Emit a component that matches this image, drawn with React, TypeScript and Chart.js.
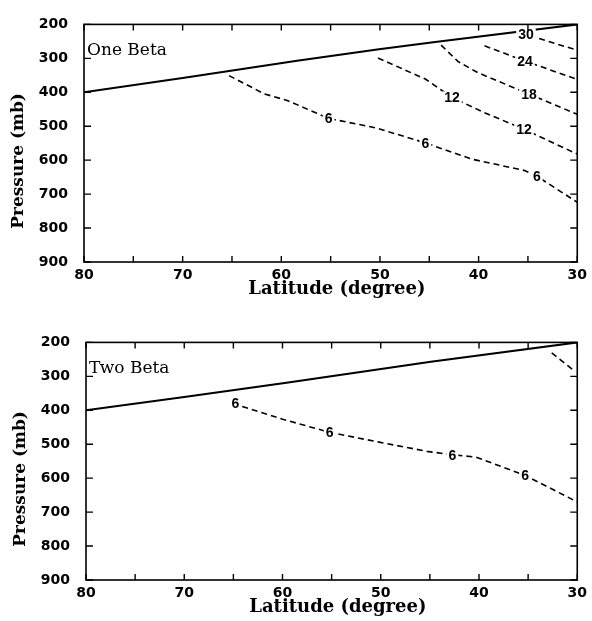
import React, { useEffect, useRef } from "react";
import { Chart, registerables } from "chart.js";

Chart.register(...registerables);

// ---------- axes ----------
const latMin = 30;
const latMax = 80;
const latStep = 5;
const pMin = 200;
const pMax = 900;
const pStep = 100;
const xTitle = "  Latitude (degree)";
const yTitle = "Pressure (mb)      ";

// ---------- One Beta panel ----------
const oneTropLat = [80, 70, 58.4, 50.1, 44.4, 30];
const oneTropP = [400, 358, 307, 273, 252, 200];

const one6Lat = [65.3, 61.7, 59.4, 55.2, 50.4, 45.4, 40.7, 35.4, 34.1, 30];
const one6P = [351, 405, 424, 477, 505, 549, 597, 630, 647, 724];

const one12Lat = [50.2, 45.4, 42.7, 39.4, 35.4, 30];
const one12P = [299, 361, 415, 460, 509, 582];

const one18Lat = [43.8, 42.1, 40.1, 34.9, 30];
const one18P = [261, 309, 342, 405, 465];

const one24Lat = [39.4, 35.3, 30];
const one24P = [263, 308, 362];

const one30Lat = [35.8, 35.2, 34.4, 30];
const one30P = [224, 229, 237, 276];

const oneLabelText = ["6", "6", "6", "12", "12", "18", "24", "30"];
const oneLabelLat = [55.2, 45.4, 34.1, 42.7, 35.4, 34.9, 35.3, 35.2];
const oneLabelP = [477, 549, 647, 415, 509, 405, 308, 229];

// ---------- Two Beta panel ----------
const twoTropLat = [80, 70, 59.6, 44.9, 30];
const twoTropP = [400, 361, 319, 257, 200];

const two6Lat = [64.1, 59.9, 55.2, 50.3, 45.3, 42.7, 40.3, 35.3, 30];
const two6P = [389, 427, 465, 493, 521, 531, 538, 592, 670];

const twoCornerLat = [32.6, 30.2];
const twoCornerP = [231, 286];

const twoLabelText = ["6", "6", "6", "6"];
const twoLabelLat = [64.8, 55.2, 42.7, 35.3];
const twoLabelP = [378, 465, 531, 592];

const zip = (xs: number[], ys: number[]) => xs.map((x, i) => ({ x, y: ys[i] }));

const framePlugin = {
  id: "frame",
  afterDatasetsDraw(chart: any, _args: any, opts: any) {
    const { ctx, chartArea: a, scales } = chart;
    const xs = scales.x;
    const ys = scales.y;
    ctx.save();
    // contour labels
    ctx.font = 'bold 14px "Liberation Sans"';
    ctx.textAlign = "center";
    ctx.textBaseline = "middle";
    (opts.labels || []).forEach((l: any) => {
      const px = xs.getPixelForValue(l.x);
      const py = ys.getPixelForValue(l.y);
      const w = ctx.measureText(l.text).width;
      ctx.fillStyle = "#ffffff";
      ctx.fillRect(px - w / 2 - 2, py - 6, w + 4, 12);
      ctx.fillStyle = "#000000";
      ctx.fillText(l.text, px, py + 1);
    });
    // frame
    ctx.strokeStyle = "#000";
    ctx.lineWidth = 1.6;
    ctx.strokeRect(a.left, a.top, a.right - a.left, a.bottom - a.top);
    ctx.lineWidth = 1.4;
    ctx.beginPath();
    xs.ticks.forEach((t: any) => {
      const px = xs.getPixelForValue(t.value);
      ctx.moveTo(px, a.bottom);
      ctx.lineTo(px, a.bottom - 6);
      ctx.moveTo(px, a.top);
      ctx.lineTo(px, a.top + 6);
    });
    ys.ticks.forEach((t: any) => {
      const py = ys.getPixelForValue(t.value);
      ctx.moveTo(a.left, py);
      ctx.lineTo(a.left + 7, py);
      ctx.moveTo(a.right, py);
      ctx.lineTo(a.right - 7, py);
    });
    ctx.stroke();
    // panel title
    ctx.font = '17px "DejaVu Serif"';
    ctx.textAlign = "left";
    ctx.textBaseline = "alphabetic";
    ctx.fillStyle = "#000";
    ctx.fillText(opts.title, a.left + 3, a.top + 31);
    ctx.restore();
  },
};

type Series = { lat: number[]; p: number[]; solid?: boolean };

function Panel(props: {
  series: Series[];
  labelText: string[];
  labelLat: number[];
  labelP: number[];
  title: string;
  width: number;
  padRight: number;
}) {
  const ref = useRef<HTMLCanvasElement>(null);
  useEffect(() => {
    if (!ref.current) return;
    const datasets = props.series.map((s) => ({
      data: zip(s.lat, s.p),
      showLine: true,
      borderColor: "#000",
      borderWidth: s.solid ? 2 : 1.6,
      borderDash: s.solid ? [] : [6, 4],
      pointRadius: 0,
      fill: false,
      tension: 0,
    }));
    const labels = props.labelText.map((text, i) => ({
      text,
      x: props.labelLat[i],
      y: props.labelP[i],
    }));
    const chart = new Chart(ref.current, {
      type: "scatter",
      data: { datasets },
      plugins: [framePlugin],
      options: {
        animation: false,
        responsive: false,
        maintainAspectRatio: false,
        layout: { padding: { top: 15, right: props.padRight, bottom: 0, left: 0 } },
        plugins: {
          legend: { display: false },
          tooltip: { enabled: false },
          frame: { labels, title: props.title },
        } as any,
        scales: {
          x: {
            type: "linear",
            reverse: true,
            min: latMin,
            max: latMax,
            grid: { display: false, drawTicks: false },
            border: { display: false },
            afterFit: (s: any) => {
              s.height = 38;
            },
            ticks: {
              stepSize: latStep,
              autoSkip: false,
              padding: 5,
              color: "#000",
              font: { family: '"DejaVu Sans"', size: 14, weight: "bold" },
              callback: (v: any) => (Number(v) % 10 === 0 ? String(v) : ""),
            },
            title: {
              display: true,
              text: xTitle,
              color: "#000",
              font: { family: '"DejaVu Serif"', size: 18, weight: "bold" },
              padding: { top: 0, bottom: 0 },
            },
          },
          y: {
            type: "linear",
            reverse: true,
            min: pMin,
            max: pMax,
            grid: { display: false, drawTicks: false },
            border: { display: false },
            afterFit: (s: any) => {
              s.width = 84;
            },
            ticks: {
              stepSize: pStep,
              autoSkip: false,
              padding: 16,
              color: "#000",
              font: { family: '"DejaVu Sans"', size: 14, weight: "bold" },
            },
            title: {
              display: true,
              text: yTitle,
              color: "#000",
              font: { family: '"DejaVu Serif"', size: 17, weight: "bold" },
              padding: { top: 8, bottom: 0 },
            },
          },
        },
      } as any,
    });
    return () => chart.destroy();
  }, []);
  return (
    <canvas
      ref={ref}
      width={props.width}
      height={300}
      style={{ width: props.width, height: 300, display: "block" }}
    />
  );
}

export default function App() {
  return (
    <div style={{ position: "absolute", left: 0, top: 0, width: 592, height: 621, background: "#fff" }}>
      <div style={{ position: "absolute", left: 0, top: 0 }}>
        <Panel
          title="One Beta"
          width={592}
          padRight={9}
          series={[
            { lat: oneTropLat, p: oneTropP, solid: true },
            { lat: one6Lat, p: one6P },
            { lat: one12Lat, p: one12P },
            { lat: one18Lat, p: one18P },
            { lat: one24Lat, p: one24P },
            { lat: one30Lat, p: one30P },
          ]}
          labelText={oneLabelText}
          labelLat={oneLabelLat}
          labelP={oneLabelP}
        />
      </div>
      <div style={{ position: "absolute", left: 2, top: 318 }}>
        <Panel
          title="Two Beta"
          width={590}
          padRight={7}
          series={[
            { lat: twoTropLat, p: twoTropP, solid: true },
            { lat: two6Lat, p: two6P },
            { lat: twoCornerLat, p: twoCornerP },
          ]}
          labelText={twoLabelText}
          labelLat={twoLabelLat}
          labelP={twoLabelP}
        />
      </div>
    </div>
  );
}
